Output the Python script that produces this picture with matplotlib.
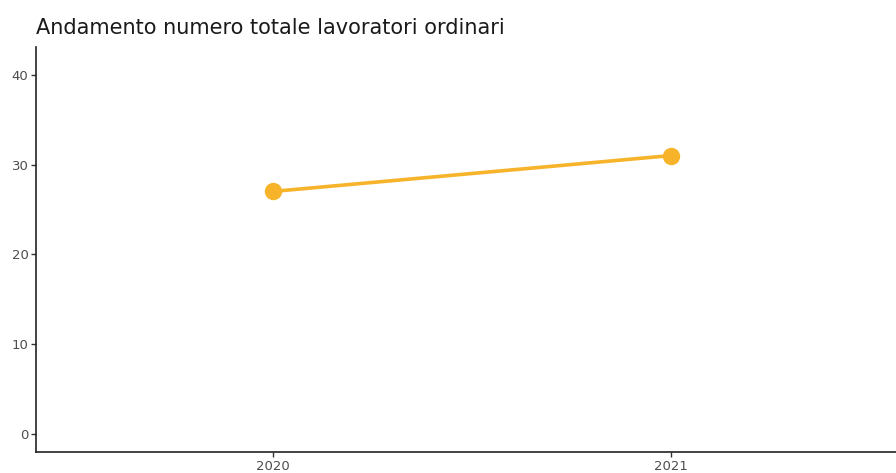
import matplotlib
matplotlib.use("Agg")
import matplotlib.pyplot as plt

years = ["2020", "2021"]
lavoratori = [27, 31]
y_ticks = [0, 10, 20, 30, 40]

fig = plt.figure(figsize=(8.96, 4.73), dpi=100)
ax = fig.add_axes([0.0402, 0.0444, 0.9598, 0.8562])

x = list(range(len(years)))
ax.plot(x, lavoratori, color="#F7B329", linewidth=2.6, marker="o",
        markersize=11.5, solid_capstyle="butt")

ax.set_xlim(-0.595, 1.565)
ax.set_ylim(-2.05, 43.1)
ax.set_xticks(x)
ax.set_xticklabels(years)
ax.set_yticks(y_ticks)
for s in ["top", "right"]:
    ax.spines[s].set_visible(False)
for s in ["left", "bottom"]:
    ax.spines[s].set_linewidth(1.2)
    ax.spines[s].set_color("#222222")
ax.tick_params(axis="both", labelsize=9.5, labelcolor="#4D4D4D", color="#333333",
               length=3.5, width=1.0, pad=2)

fig.text(0.0402, 0.94, "Andamento numero totale lavoratori ordinari",
         fontsize=15, color="#1A1A1A", ha="left", va="center")

fig.savefig("out.png", dpi=100)
